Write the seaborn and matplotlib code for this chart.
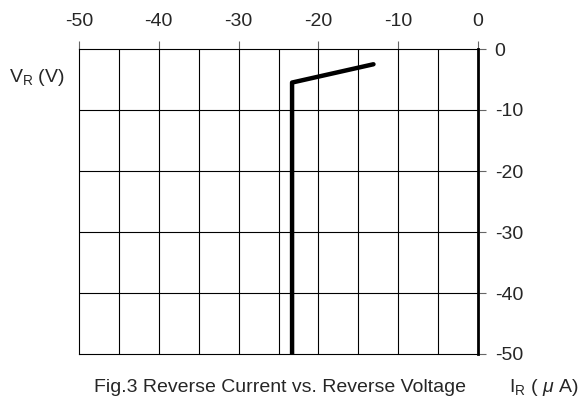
import seaborn as sns
import matplotlib.pyplot as plt
import pandas as pd

# Reverse current / reverse voltage curve
current_ua = [-23.3, -23.3, -13.1]
voltage_v = [-50.0, -5.5, -2.5]

x_ticks = [-50, -40, -30, -20, -10, 0]
y_ticks = [0, -10, -20, -30, -40, -50]
x_grid = [-45, -40, -35, -30, -25, -20, -15, -10, -5]
y_grid = [-10, -20, -30, -40]

sns.set_style('white')
plt.rcParams['font.family'] = ['Liberation Sans', 'DejaVu Sans']
plt.rcParams['mathtext.fontset'] = 'custom'
plt.rcParams['mathtext.rm'] = 'Liberation Sans'
plt.rcParams['mathtext.it'] = 'Liberation Sans:italic'
plt.rcParams['axes.unicode_minus'] = False

df = pd.DataFrame({'I_R': current_ua, 'V_R': voltage_v})

fig = plt.figure(figsize=(5.81, 4.01), dpi=100)
ax = fig.add_axes([79 / 581, 47 / 401, 399 / 581, 305 / 401])

# grid lines
for gx in x_grid:
    ax.axvline(gx, color='black', lw=0.8, zorder=1)
for gy in y_grid:
    ax.axhline(gy, color='black', lw=0.8, zorder=1)

sns.lineplot(data=df, x='I_R', y='V_R', sort=False, estimator=None,
             color='black', lw=3.2, ax=ax, zorder=3)

ax.set_xlim(-50, 0)
ax.set_ylim(-50, 0)
ax.set_xticks(x_ticks)
ax.set_yticks(y_ticks)
ax.xaxis.tick_top()
ax.yaxis.tick_right()
ax.tick_params(axis='x', length=6, width=0.8, color='#666666', pad=8,
               labelsize=14, top=True, bottom=False)
ax.tick_params(axis='y', length=6, width=0.8, color='#666666', pad=6,
               labelsize=14, right=True, left=False)
ax.set_xlabel('')
ax.set_ylabel('')

for side in ['top', 'left', 'bottom']:
    ax.spines[side].set_linewidth(0.8)
    ax.spines[side].set_color('black')
ax.spines['right'].set_linewidth(2.0)
ax.spines['right'].set_color('black')

fig.text(37 / 581, 1 - 77 / 401, r'V$_\mathrm{R}$ (V)', ha='center', va='center',
         fontsize=14)
fig.text(280 / 581, 1 - 388 / 401, 'Fig.3 Reverse Current vs. Reverse Voltage',
         ha='center', va='center', fontsize=14)
fig.text(579 / 581, 1 - 388 / 401, r'I$_\mathrm{R}$ ( $\mu$ A)', ha='right',
         va='center', fontsize=14)

fig.savefig('out.png', dpi=100)
